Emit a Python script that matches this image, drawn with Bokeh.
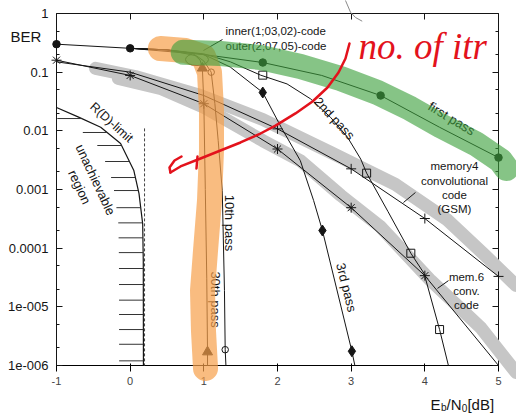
import numpy as np
from bokeh.plotting import figure
from bokeh.models import (Range1d, LinearAxis, LogAxis, FixedTicker,
                          CustomJSTickFormatter)
from bokeh.core.properties import value
from bokeh.embed import file_html
from bokeh.resources import INLINE

FONT = "Liberation Sans"
INK = "#151515"

# ---------------- axis ticks ----------------
x_ticks = [-1, 0, 1, 2, 3, 4, 5]
x_tick_labels = ["-1", "0", "1", "2", "3", "4", "5"]
y_ticks = [1e-6, 1e-5, 1e-4, 1e-3, 1e-2, 1e-1, 1.0]
y_tick_labels = ["1e-006", "1e-005", "0.0001", "0.001", "0.01", "0.1", "1"]
y_minor_ticks = [m * t for t in y_ticks[:-1] for m in (2, 5)]

# ---------------- BER curves (Eb/N0 in dB, BER) ----------------
first_x = [-1, 0, 1, 1.8, 2.6, 3.4, 4.2, 5]
first_ber = [0.30, 0.255, 0.20, 0.146, 0.088, 0.040, 0.0115, 0.0035]
first_pts_x = [-1, 0, 1.8, 3.4, 5]
first_pts_ber = [0.30, 0.255, 0.146, 0.040, 0.0035]

second_x = [0, 0.5, 1.0, 1.36, 1.77, 2.13, 2.45, 2.72, 2.95, 3.13, 3.21, 3.5, 3.81, 3.99, 4.2, 4.32]
second_ber = [0.255, 0.24, 0.205, 0.15, 0.089, 0.063, 0.035, 0.017, 0.0078, 0.0033, 0.0019,
              4.2e-4, 8.2e-5, 3.7e-5, 4.1e-6, 1e-6]
second_pts_x = [1.8, 3.21, 3.81, 4.2]
second_pts_ber = [0.089, 0.0019, 8.2e-5, 4.1e-6]

third_x = [0, 0.5, 1.0, 1.36, 1.8, 2.05, 2.31, 2.49, 2.61, 3.01, 3.05]
third_ber = [0.255, 0.24, 0.20, 0.122, 0.045, 0.0115, 0.0031, 6.5e-4, 2.0e-4, 1.75e-6, 1e-6]
third_pts_x = [1.8, 2.61, 3.01]
third_pts_ber = [0.045, 2.0e-4, 1.75e-6]

tenth_x = [0, 0.5, 0.9, 1.0, 1.1, 1.15, 1.195, 1.25, 1.28, 1.29, 1.30]
tenth_ber = [0.255, 0.24, 0.19, 0.155, 0.10, 0.029, 0.0068, 9.6e-4, 1.9e-5, 1.86e-6, 1e-6]
tenth_pts_x = [1.1, 1.29]
tenth_pts_ber = [0.10, 1.86e-6]

thirtieth_x = [0, 0.5, 0.85, 0.95, 0.98, 1.0, 1.02, 1.04, 1.05, 1.05]
thirtieth_ber = [0.255, 0.24, 0.21, 0.16, 0.117, 0.03, 1e-3, 3e-5, 1.7e-6, 1e-6]
thirtieth_pts_x = [0.98, 1.05]
thirtieth_pts_ber = [0.117, 1.7e-6]

mem4_x = [-1, 0, 1, 2, 3, 4, 5]
mem4_ber = [0.15, 0.10, 0.04, 0.0108, 0.00225, 3.2e-4, 3.3e-5]
mem4_pts_x = [2, 3, 4, 5]
mem4_pts_ber = [0.0108, 0.00225, 3.2e-4, 3.3e-5]

mem6_x = [-1, 0, 1, 2, 3, 4, 5]
mem6_ber = [0.16, 0.088, 0.029, 0.0049, 4.9e-4, 3.4e-5, 1e-6]
mem6_pts_x = [-1, 0, 1, 2, 3, 4]
mem6_pts_ber = [0.16, 0.088, 0.029, 0.0049, 4.9e-4, 3.4e-5]

# rate-distortion bound and the Shannon limit
rd_x = [-1, -0.7, -0.4, -0.13, 0.05, 0.12, 0.17, 0.178, 0.18]
rd_ber = [0.025, 0.0171, 0.0115, 0.0061, 0.0021, 0.00085, 0.00026, 6e-5, 1e-6]
hatch_ber = [0.0162, 0.00937, 0.00562, 0.0030, 0.0016, 9.6e-4, 4.9e-4, 2.7e-4, 1.5e-4,
             8.4e-5, 4.5e-5, 2.4e-5, 1.3e-5, 7.4e-6, 4.1e-6, 2.3e-6, 1.2e-6]
limit_x = [0.195, 0.195]
limit_ber = [0.011, 1e-6]

# highlighter strokes
band_a_x = [-0.47, 0.07, 0.955, 1.80, 2.72, 3.60, 4.31, 4.82, 5.24]
band_a_ber = [0.116, 0.084, 0.040, 0.0156, 0.0043, 0.00122, 3.0e-4, 7.5e-5, 2.3e-5]
band_b_x = [-0.16, 0.41, 1.01, 1.80, 2.31, 2.86, 3.40, 4.08, 4.76, 5.24]
band_b_ber = [0.078, 0.053, 0.025, 0.0068, 0.0031, 7.9e-4, 2.3e-4, 2.8e-5, 4.4e-6, 7.6e-7]
orange_x = [0.41, 0.75, 0.995, 1.077, 1.104, 1.104, 1.077, 1.023, 0.982, 0.995, 1.023]
orange_ber = [0.253, 0.234, 0.185, 0.0987, 0.0222, 0.00462, 6.5e-4, 9.1e-5, 1.9e-5, 3.95e-6, 8.9e-7]
green_x = [0.72, 1.226, 1.769, 2.312, 2.855, 3.357, 3.805, 4.212, 4.688, 5.027, 5.108]
green_ber = [0.218, 0.208, 0.178, 0.125, 0.078, 0.045, 0.024, 0.0123, 0.00608, 0.00312, 0.00228]

# pen strokes
red_x = [2.977, 2.923, 2.828, 2.679, 2.475, 2.244, 1.973, 1.769, 1.498, 1.226, 0.955, 0.683, 0.547]
red_ber = [0.308, 0.171, 0.0987, 0.0548, 0.0316, 0.0198, 0.0123, 0.0090, 0.00633, 0.00462,
           0.00338, 0.00247, 0.00195]
hook_x = [0.697, 0.602, 0.534, 0.547]
hook_ber = [0.00365, 0.00312, 0.00237, 0.00195]
tick_x = [0.914, 0.900]
tick_ber = [0.00365, 0.00228]
arc_x = [2.923, 2.991, 3.059, 3.150]
arc_ber = [1.666, 1.052, 0.855, 0.739]

# leader lines from the text blocks
leader_xs = [[1.253, 0.995], [3.873, 3.71], [4.321, 4.172]]
leader_ys = [[0.36, 0.234], [8.9e-4, 6.0e-4], [2.8e-5, 2.06e-5]]

p = figure(width=516, height=415, y_axis_type="log",
           x_range=Range1d(-1, 5), y_range=Range1d(1e-6, 1),
           output_backend="svg", toolbar_location=None,
           min_border_left=56, min_border_right=18,
           min_border_top=13, min_border_bottom=50)
p.outline_line_color = None
p.xgrid.visible = False
p.ygrid.visible = False
p.background_fill_color = "white"
p.border_fill_color = "white"

p.xaxis.ticker = FixedTicker(ticks=x_ticks)
p.xaxis.formatter = CustomJSTickFormatter(args=dict(tv=x_ticks, tl=x_tick_labels), code="""
for (let i = 0; i < tv.length; i++) { if (Math.abs(tick - tv[i]) < 1e-9) return tl[i]; }
return "";
""")
p.yaxis.ticker = FixedTicker(ticks=y_ticks, minor_ticks=y_minor_ticks)
p.yaxis.formatter = CustomJSTickFormatter(args=dict(tv=y_ticks, tl=y_tick_labels), code="""
for (let i = 0; i < tv.length; i++) {
  if (Math.abs(Math.log10(tick) - Math.log10(tv[i])) < 1e-6) return tl[i];
}
return "";
""")

top_axis = LinearAxis(ticker=FixedTicker(ticks=x_ticks))
right_axis = LogAxis(ticker=FixedTicker(ticks=y_ticks, minor_ticks=y_minor_ticks))
p.add_layout(top_axis, "above")
p.add_layout(right_axis, "right")

for ax in [p.xaxis[0], p.yaxis[0], top_axis, right_axis]:
    ax.axis_line_color = INK
    ax.major_tick_line_color = INK
    ax.minor_tick_line_color = INK
    ax.major_tick_in = 6
    ax.major_tick_out = 0
    ax.minor_tick_in = 3
    ax.minor_tick_out = 0
for ax in [p.xaxis[0], p.yaxis[0]]:
    ax.major_label_text_font = FONT
    ax.major_label_text_font_size = "13px"
    ax.major_label_text_color = INK
p.xaxis[0].major_label_standoff = 9
p.yaxis[0].major_label_standoff = 8
for ax in [top_axis, right_axis]:
    ax.major_label_text_font_size = "1px"
    ax.major_label_text_color = None
    ax.major_label_standoff = 0


def top(r):
    r.level = "annotation"
    return r


def write(txt, tx, ty, size, ang=0, align="center", baseline="middle",
          color=INK, font=FONT, style="normal"):
    return top(p.text(x=[tx], y=[ty], text=[txt], angle=ang, angle_units="deg",
                      text_font=value(font), text_font_size=size, text_color=color,
                      text_font_style=style, text_align=align, text_baseline=baseline,
                      text_line_height=1.17))


# grey highlighter under the curves
for bx, by in [(band_a_x, band_a_ber), (band_b_x, band_b_ber)]:
    top(p.line(bx, by, line_width=13, line_color="#c6c6c6",
               line_cap="round", line_join="round"))

# R(D) bound with hatching of the unachievable region
top(p.line(rd_x, rd_ber, line_color=INK, line_width=1.2))
rd_logs = np.log10(rd_ber)[::-1]
hatch_end = np.interp(np.log10(hatch_ber), rd_logs, np.array(rd_x)[::-1])
top(p.segment(x0=list(hatch_end - 0.33), y0=hatch_ber, x1=list(hatch_end), y1=hatch_ber,
              line_color="#333333", line_width=1))
top(p.line(limit_x, limit_ber, line_color="#444444", line_width=1, line_dash="3 2"))

# convolutional code references
top(p.line(mem4_x, mem4_ber, line_color=INK, line_width=1))
top(p.line(mem6_x, mem6_ber, line_color=INK, line_width=1))

# iterative decoding passes
for cx, cy in [(first_x, first_ber), (second_x, second_ber), (third_x, third_ber),
               (tenth_x, tenth_ber), (thirtieth_x, thirtieth_ber)]:
    top(p.line(cx, cy, line_color=INK, line_width=1))

top(p.scatter(first_pts_x, first_pts_ber, marker="circle", size=7.5,
              fill_color=INK, line_color=INK))
top(p.scatter(second_pts_x, second_pts_ber, marker="square", size=8,
              fill_color=None, line_color=INK, line_width=1))
top(p.scatter(third_pts_x, third_pts_ber, marker="diamond", size=11,
              fill_color=INK, line_color=INK))
top(p.scatter(tenth_pts_x, tenth_pts_ber, marker="circle", size=6.5,
              fill_color=None, line_color=INK, line_width=1))
top(p.scatter(thirtieth_pts_x, thirtieth_pts_ber, marker="triangle", size=10,
              fill_color=INK, line_color=INK))
top(p.scatter(mem4_pts_x, mem4_pts_ber, marker="cross", size=10,
              line_color=INK, line_width=1))
top(p.scatter(mem6_pts_x, mem6_pts_ber, marker="asterisk", size=10,
              line_color=INK, line_width=1))

top(p.multi_line(leader_xs, leader_ys, line_color=INK, line_width=1))
top(p.ellipse(x=[0.907], y=[0.164], width=23, height=12, width_units="screen",
              height_units="screen", fill_color=None, line_color=INK, line_width=1))

# curve annotations
write("inner(1;03,02)-code\nouter(2;07,05)-code", 1.294, 0.375, "11.5px", align="left")
write("first pass", 4.362, 0.0162, "13px", ang=-31)
write("2nd pass", 2.774, 0.0162, "13px", ang=-47)
write("memory4\nconvolutional\ncode\n(GSM)", 4.402, 0.00108, "11.5px")
write("mem.6\nconv.\ncode", 4.565, 1.87e-5, "11.5px")
write("R(D)-limit", -0.253, 0.0139, "12.5px", ang=-42)
write("unachievable\nregion", -0.579, 0.00127, "13px", ang=-65)
write("10th pass", 1.355, 2.69e-4, "13px", ang=-90)
write("30th pass", 1.152, 1.33e-5, "13px", ang=-90)
write("3rd pass", 2.936, 2.14e-5, "13px", ang=-76)

# highlighter strokes over the curves
top(p.line(orange_x, orange_ber, line_width=25, line_color="#f7a04a", line_alpha=0.7,
           line_cap="round", line_join="round"))
top(p.line(green_x, green_ber, line_width=25, line_color="#3ca03c", line_alpha=0.62,
           line_cap="round", line_join="round"))

# red pen notes
for sx, sy in [(red_x, red_ber), (hook_x, hook_ber), (tick_x, tick_ber)]:
    top(p.line(sx, sy, line_color="#e3121c", line_width=2.5,
               line_cap="round", line_join="round"))
top(p.line(arc_x, arc_ber, line_color="#8a8a8a", line_width=1))
write("no. of itr", 3.10, 0.273, "37px", align="left", baseline="alphabetic",
      color="#e3121c", font="Liberation Serif", style="italic")

# axis titles
write("BER", -1.414, 0.40, "15px")
write("E", 4.077, 2.17e-7, "15px", align="left", baseline="alphabetic")
write("b", 4.219, 1.89e-7, "10px", align="left", baseline="alphabetic")
write("/N", 4.294, 2.17e-7, "15px", align="left", baseline="alphabetic")
write("0", 4.501, 1.89e-7, "10px", align="left", baseline="alphabetic")
write("[dB]", 4.578, 2.17e-7, "15px", align="left", baseline="alphabetic")

open("out.html", "w").write(file_html(p, INLINE))
